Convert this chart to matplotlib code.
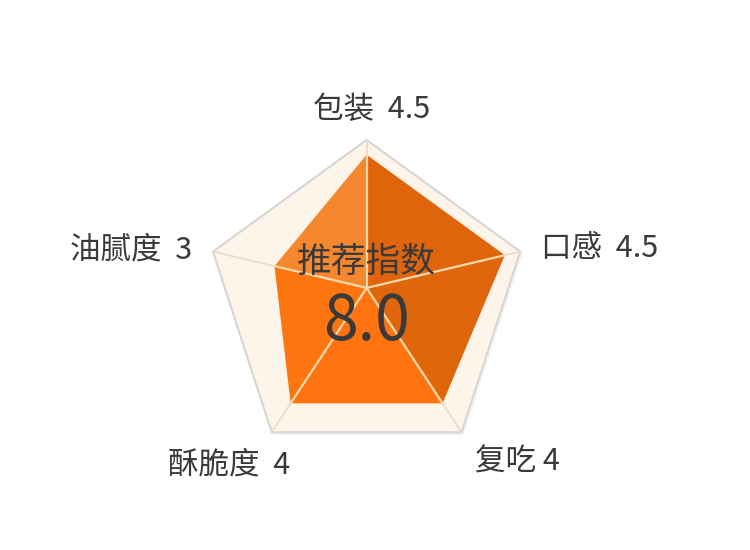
import numpy as np
import matplotlib
matplotlib.use('Agg')
import matplotlib.pyplot as plt
from matplotlib.patches import Polygon
import matplotlib.patheffects as pe

plt.rcParams['font.family'] = ['Noto Sans CJK SC', 'DejaVu Sans']

# data
categories = ['包装', '口感', '复吃', '酥脆度', '油腻度']
scores = [4.5, 4.5, 4, 4, 3]
max_score = 5
center_title = '推荐指数'
center_value = 8.0

# one colour per wedge (between category i and i+1), gives the faceted look
sector_colors = ['#E0640B', '#E0660C', '#FF7410', '#FD750F', '#F5872F']
label_gaps = ['  ', '  ', ' ', '  ', '  ']
# label placement: offset from the outer vertex + alignment
label_offsets = [(0.17, 0.95), (0.65, 0.11), (0.42, -0.92), (0.57, -1.02), (-0.65, 0.05)]
label_ha = ['center', 'left', 'left', 'right', 'right']

TEXT = '#3A3A3A'


def main():
    n = len(categories)
    angles = np.pi / 2 - np.arange(n) * 2 * np.pi / n
    outer = np.column_stack([np.cos(angles), np.sin(angles)]) * max_score
    apex = np.array([0.0, 0.42])  # spokes meet a bit above the middle (pyramid look)

    frac = np.array(scores, dtype=float) / max_score
    pts = apex + (outer - apex) * frac[:, None]

    fig = plt.figure(figsize=(7.5, 5.5), dpi=100)
    ax = fig.add_axes([0, 0, 1, 1])
    ax.set_xlim(-11.35, 11.87)
    ax.set_ylim(-7.69, 9.33)
    ax.axis('off')

    # background pentagon
    frame = Polygon(outer, closed=True, facecolor='#FDF5EA', edgecolor='#D8D5D2',
                    lw=1.5, zorder=1)
    frame.set_path_effects([pe.SimplePatchShadow(offset=(1.5, -2), shadow_rgbFace='#AAAAAA',
                                                 alpha=0.15), pe.Normal()])
    ax.add_patch(frame)

    for i in range(n):
        ax.plot([apex[0], outer[i, 0]], [apex[1], outer[i, 1]], color='#E6DCD0',
                lw=1.3, zorder=2)

    # score wedges
    for i in range(n):
        j = (i + 1) % n
        ax.add_patch(Polygon([apex, pts[i], pts[j]], closed=True,
                             facecolor=sector_colors[i], edgecolor='none', zorder=3))
    for i in range(n):
        ax.plot([apex[0], pts[i, 0]], [apex[1], pts[i, 1]], color='#FCD9AA',
                lw=1.6, zorder=4)

    # category labels
    for i in range(n):
        x = outer[i, 0] + label_offsets[i][0]
        y = outer[i, 1] + label_offsets[i][1]
        ax.text(x, y, f'{categories[i]}{label_gaps[i]}{scores[i]:g}', fontsize=22,
                color=TEXT, ha=label_ha[i], va='center', zorder=5)

    ax.text(0.0, 1.22, center_title, fontsize=25, color=TEXT, ha='center',
            va='center', zorder=5)
    ax.text(0.0, -0.63, f'{center_value:.1f}', fontsize=45, color=TEXT,
            ha='center', va='center', zorder=5)

    fig.savefig('out.png', dpi=100)


if __name__ == "__main__":
    main()
